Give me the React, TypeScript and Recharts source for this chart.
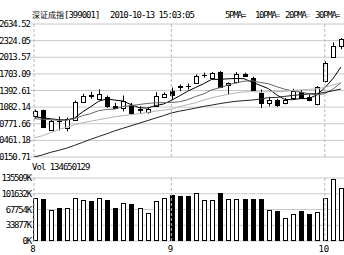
import React from 'react';
import { ComposedChart, Bar, Line, XAxis, YAxis, CartesianGrid, ReferenceLine } from 'recharts';

const dates = [
  '2010-08-09', '2010-08-10', '2010-08-11', '2010-08-12', '2010-08-13', '2010-08-16', '2010-08-17',
  '2010-08-18', '2010-08-19', '2010-08-20', '2010-08-23', '2010-08-24', '2010-08-25', '2010-08-26',
  '2010-08-27', '2010-08-30', '2010-08-31',
  '2010-09-01', '2010-09-02', '2010-09-03', '2010-09-06', '2010-09-07', '2010-09-08', '2010-09-09',
  '2010-09-10', '2010-09-13', '2010-09-14', '2010-09-15', '2010-09-16', '2010-09-17', '2010-09-20',
  '2010-09-21', '2010-09-27', '2010-09-28', '2010-09-29', '2010-09-30',
  '2010-10-08', '2010-10-11', '2010-10-12',
];

const opens = [10909, 11022, 10659, 10828, 10691, 10847, 11172, 11308, 11225, 11274, 11097, 11067, 11129, 11029, 10984, 11097, 11266, 11374, 11468, 11481, 11538, 11679, 11618, 11744, 11487, 11549, 11707, 11632, 11355, 11161, 11210, 11161, 11255, 11361, 11266, 11142, 11568, 12027, 12226];
const highs = [11035, 11035, 10847, 10909, 10885, 11204, 11330, 11368, 11411, 11299, 11161, 11299, 11161, 11097, 11067, 11361, 11355, 11449, 11505, 11524, 11694, 11726, 11737, 11756, 11543, 11737, 11726, 11650, 11411, 11274, 11236, 11255, 11425, 11398, 11317, 11474, 11938, 12290, 12371];
const lows = [10885, 10696, 10640, 10646, 10627, 10828, 11167, 11237, 11210, 11067, 11048, 11003, 10941, 10973, 10960, 11091, 11261, 11223, 11380, 11411, 11524, 11632, 11600, 11443, 11317, 11524, 11650, 11380, 11067, 11097, 11086, 11135, 11242, 11236, 11191, 11116, 11543, 12014, 12165];
const closes = [11003, 10710, 10815, 10819, 10866, 11172, 11285, 11299, 11330, 11097, 11059, 11191, 10973, 11041, 11048, 11299, 11336, 11317, 11458, 11474, 11662, 11684, 11726, 11454, 11524, 11694, 11662, 11411, 11153, 11223, 11129, 11223, 11379, 11255, 11223, 11455, 11901, 12226, 12352];

const ma5 = [10903, 10885, 10866, 10847, 10843, 10877, 10992, 11088, 11191, 11236, 11214, 11195, 11131, 11073, 11064, 11110, 11139, 11208, 11291, 11378, 11449, 11519, 11601, 11600, 11611, 11617, 11613, 11549, 11489, 11428, 11315, 11227, 11221, 11242, 11242, 11308, 11443, 11613, 11831];
const ma10 = [10866, 10856, 10847, 10838, 10838, 10866, 10922, 10960, 11016, 11039, 11045, 11093, 11109, 11131, 11150, 11163, 11167, 11169, 11182, 11220, 11280, 11329, 11404, 11445, 11494, 11534, 11566, 11575, 11543, 11519, 11466, 11419, 11385, 11364, 11334, 11312, 11334, 11417, 11538];
const ma20 = [10508, 10546, 10602, 10659, 10706, 10753, 10790, 10819, 10847, 10875, 10903, 10922, 10941, 10960, 10979, 11007, 11026, 11045, 11092, 11129, 11163, 11212, 11257, 11289, 11321, 11348, 11366, 11372, 11363, 11370, 11372, 11374, 11394, 11406, 11413, 11423, 11451, 11496, 11539];
const ma30 = [10151, 10188, 10236, 10273, 10315, 10367, 10424, 10480, 10533, 10584, 10640, 10687, 10734, 10781, 10828, 10875, 10922, 10973, 11007, 11035, 11063, 11097, 11120, 11148, 11171, 11191, 11204, 11214, 11232, 11259, 11263, 11282, 11300, 11314, 11327, 11336, 11357, 11387, 11421];

// volume in K
const volumes = [91800, 90300, 66700, 71600, 70300, 91800, 88200, 86000, 91800, 88200, 70300, 81000, 79600, 70300, 60900, 86000, 91800, 99000, 96800, 96800, 104000, 87400, 87400, 104000, 91000, 91000, 89600, 89600, 89600, 67700, 64000, 49600, 59000, 65600, 59000, 61800, 93300, 133300, 113000];

const priceTicks = [10150.71, 10461.18, 10771.66, 11082.14, 11392.61, 11703.09, 12013.57, 12324.05, 12634.52];
const volTicks = [0, 33877, 67754, 101632, 135509];
const monthStarts = ['2010-08-09', '2010-09-01', '2010-10-08'];

const maSeries = [
  { key: 'ma5', name: '5PMA', color: '#000000' },
  { key: 'ma10', name: '10PMA', color: '#666666' },
  { key: 'ma20', name: '20PMA', color: '#b4b4b4' },
  { key: 'ma30', name: '30PMA', color: '#222222' },
];

const rows = dates.map((date, i) => ({
  date,
  open: opens[i],
  high: highs[i],
  low: lows[i],
  close: closes[i],
  range: [lows[i], highs[i]],
  ma5: ma5[i],
  ma10: ma10[i],
  ma20: ma20[i],
  ma30: ma30[i],
  vol: volumes[i],
}));

const mono = '"DejaVu Sans Mono", monospace';
const gridColor = '#c8c8c8';

const Candle = (props: any) => {
  const { x, y, width, height, payload } = props;
  const top = Math.min(y, y + height);
  const h = Math.abs(height);
  const { open, close, high, low } = payload;
  const py = (p: number) => top + ((high - p) / (high - low)) * h;
  const cx = Math.round(x + width / 2) + 0.5;
  const bTop = Math.round(py(Math.max(open, close)));
  const bBot = Math.round(py(Math.min(open, close)));
  const up = close >= open;
  return (
    <g>
      <line x1={cx} x2={cx} y1={top} y2={top + h} stroke="#000" />
      {bBot - bTop < 1 ? (
        <line x1={cx - 2.5} x2={cx + 2.5} y1={bTop + 0.5} y2={bTop + 0.5} stroke="#000" />
      ) : (
        <rect x={cx - 2} y={bTop + 0.5} width={4} height={bBot - bTop} fill={up ? '#fff' : '#000'} stroke="#000" />
      )}
    </g>
  );
};

const VolBar = (props: any) => {
  const { x, y, width, height, payload } = props;
  const up = payload.close >= payload.open;
  const cx = Math.round(x + width / 2) + 0.5;
  const top = Math.round(y) + 0.5;
  const bottom = Math.round(y + height) - 0.5;
  return <rect x={cx - 2} y={top} width={4} height={bottom - top} fill={up ? '#fff' : '#000'} stroke="#000" />;
};

const PriceTick = ({ x, y, payload }: any) => (
  <text x={x} y={y} dy={3} textAnchor="end" fontSize={9} fontFamily={mono} letterSpacing={-1} fill="#000">
    {payload.value.toFixed(2)}
  </text>
);

const VolTick = ({ x, y, payload }: any) => (
  <text x={x + 1} y={y} dy={3} textAnchor="end" fontSize={9} fontFamily={mono} letterSpacing={-1.2} fill="#000">
    {`${payload.value}K`}
  </text>
);

const MonthTick = ({ x, y, payload }: any) => (
  <text x={x - 1} y={y} dy={7} textAnchor="middle" fontSize={9} fontFamily={mono} fill="#000">
    {String(parseInt(payload.value.slice(5, 7), 10))}
  </text>
);

const label: React.CSSProperties = {
  position: 'absolute',
  fontFamily: mono,
  fontSize: 9,
  letterSpacing: -1,
  lineHeight: '10px',
  whiteSpace: 'nowrap',
  color: '#000',
};

export default function App() {
  return (
    <div style={{ position: 'absolute', left: 0, top: 0, width: 344, height: 255, overflow: 'hidden', background: '#fff' }}>
      <div style={{ position: 'absolute', left: 0, top: 0 }}>
        <ComposedChart width={345} height={160} data={rows} margin={{ top: 24, right: 0, bottom: 3, left: 0 }}>
          <CartesianGrid vertical={false} stroke={gridColor} />
          <XAxis dataKey="date" hide />
          <YAxis
            domain={[priceTicks[0], priceTicks[priceTicks.length - 1]]}
            ticks={priceTicks}
            interval={0}
            allowDataOverflow
            width={30}
            axisLine={false}
            tickLine={false}
            tickSize={0}
            tickMargin={0}
            tick={<PriceTick />}
          />
          {monthStarts.map(d => (
            <ReferenceLine key={d} x={d} stroke="#b8b8b8" strokeDasharray="3 2" />
          ))}
          {maSeries.map(s => (
            <Line key={s.key} dataKey={s.key} stroke={s.color} strokeWidth={1} dot={false} isAnimationActive={false} />
          ))}
          <Bar dataKey="range" barSize={5} shape={<Candle />} isAnimationActive={false} />
        </ComposedChart>
      </div>
      <div style={{ position: 'absolute', left: 0, top: 160 }}>
        <ComposedChart width={345} height={95} data={rows} margin={{ top: 18, right: 0, bottom: 0, left: 0 }}>
          <CartesianGrid vertical={false} stroke={gridColor} />
          <XAxis
            dataKey="date"
            ticks={monthStarts}
            interval={0}
            height={14}
            axisLine={false}
            tickLine={false}
            tickSize={0}
            tickMargin={4}
            tick={<MonthTick />}
          />
          <YAxis
            domain={[0, volTicks[volTicks.length - 1]]}
            ticks={volTicks}
            interval={0}
            width={30}
            axisLine={false}
            tickLine={false}
            tickSize={0}
            tickMargin={0}
            tick={<VolTick />}
          />
          {monthStarts.map(d => (
            <ReferenceLine key={d} x={d} stroke="#b8b8b8" strokeDasharray="3 2" />
          ))}
          <Bar dataKey="vol" barSize={5} shape={<VolBar />} isAnimationActive={false} />
        </ComposedChart>
      </div>
      <div style={{ ...label, left: 32, top: 10 }}>
        <span style={{ fontFamily: '"Noto Sans CJK SC"', fontSize: 8, letterSpacing: 0 }}>深证成指</span>[399001]
      </div>
      <div style={{ ...label, left: 110, top: 10 }}>2010-10-13 15:03:05</div>
      {maSeries.map((s, i) => (
        <div key={s.key} style={{ ...label, left: 225 + i * 30, top: 10, letterSpacing: -1.3 }}>
          {s.name}
          <span style={{ color: s.color, fontSize: 8, letterSpacing: 0 }}>=</span>
        </div>
      ))}
      <div style={{ ...label, left: 32, top: 162 }}>Vol 134650129</div>
    </div>
  );
}
